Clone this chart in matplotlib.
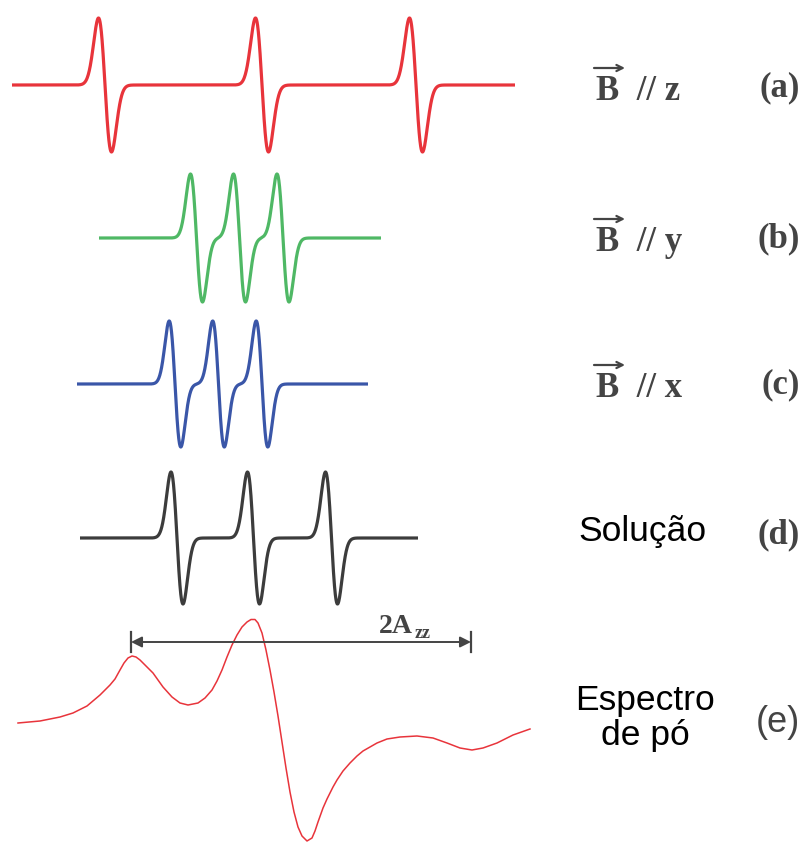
import numpy as np
import matplotlib
matplotlib.use("Agg")
import matplotlib.pyplot as plt

# line centres (field units), width and half peak-to-peak height for each orientation
z_centres = [105, 262, 416]
y_centres = [196.5, 239.5, 283]
x_centres = [175, 218.5, 262]
sol_centres = [177, 253.5, 331.5]
sigmas = {"z": 6.5, "y": 6.0, "x": 5.8, "sol": 6.0}
heights = {"z": 67, "y": 64, "x": 63, "sol": 66}

# powder spectrum (field, signal)
pow_x = [18, 40, 60, 73, 87, 100, 110, 115, 120, 124, 128, 132, 136, 140, 145, 153,
         163, 172, 180, 188, 198, 205, 212, 217, 222, 227, 232, 237, 242, 247, 251,
         255, 258, 262, 266, 270, 274, 278, 282, 286, 290, 294, 298, 302, 307, 312,
         315, 318, 323, 327, 333, 337, 343, 350, 357, 363, 370, 377, 387, 400, 417,
         433, 447, 460, 472, 483, 497, 513, 530]
pow_y = [723, 721, 717, 713, 706, 695, 685, 679, 670, 663, 658, 656, 657, 660, 665, 673,
         687, 697, 703, 705, 703, 698, 690, 681, 670, 657, 645, 635, 627, 622, 619.5,
         619.5, 623, 633, 650, 670, 692, 716, 742, 768, 792, 812, 827, 836, 841, 838,
         831, 822, 808, 799, 787, 780, 771, 763, 756, 751, 747, 743, 739, 737, 736,
         738, 743, 748, 750, 748, 743, 735, 729]

red = "#e8343b"
green = "#4fb865"
blue = "#3a56a8"
dark = "#3c3c3c"
grey = "#444444"


def dlines(f, centres, sigma, h):
    s = np.zeros_like(f)
    for c in centres:
        u = (f - c) / sigma
        s += -u * np.exp(0.5 - u * u / 2)
    return h * s


fig = plt.figure(figsize=(8.04, 8.42), dpi=100)
ax = fig.add_axes([0, 0, 1, 1])
ax.set_xlim(0, 804)
ax.set_ylim(842, 0)
ax.axis("off")

traces = [
    (z_centres, "z", 12, 515, 85, red),
    (y_centres, "y", 99, 381, 238, green),
    (x_centres, "x", 77, 368, 384, blue),
    (sol_centres, "sol", 80, 418, 538, dark),
]
for cen, key, f0, f1, base, col in traces:
    f = np.linspace(f0, f1, 2000)
    ax.plot(f, base - dlines(f, cen, sigmas[key], heights[key]), color=col,
            lw=2.3, solid_capstyle="butt")

ax.plot(pow_x, pow_y, color=red, lw=1.1, solid_joinstyle="round")

# 2Azz marker
ax.annotate("", xy=(131, 642), xytext=(471, 642),
            arrowprops=dict(arrowstyle="<|-|>", color=grey, lw=1.4,
                            mutation_scale=16, shrinkA=0, shrinkB=0))
for xe in (131, 471):
    ax.plot([xe, xe], [632, 652], color=grey, lw=1.6)
ax.text(379, 633, "2A", fontfamily="Liberation Serif", fontweight="bold",
        fontsize=20, color=grey, va="baseline")
ax.text(415, 638, "zz", fontfamily="Liberation Serif", fontweight="bold",
        fontsize=13, color=grey, va="baseline")

# orientation labels
serif = dict(fontfamily="Liberation Serif", fontweight="bold", fontsize=25, color=grey)
for lab, yb, tag in [("z", 100, "(a)"), ("y", 251, "(b)"), ("x", 397, "(c)")]:
    ax.text(596, yb, "B  // " + lab, va="baseline", **serif)
    ax.annotate("", xy=(625, yb - 32), xytext=(594, yb - 32),
                arrowprops=dict(arrowstyle="->", color=grey, lw=1.6,
                                mutation_scale=11, shrinkA=0, shrinkB=0))
    ax.text(800, yb - 4, tag, ha="right", va="baseline", **serif)

ax.text(800, 543, "(d)", ha="right", va="baseline", **serif)
ax.text(578, 532, "Solução", fontfamily="Liberation Sans", fontsize=25.5,
        color="black", va="center")
ax.text(645, 718, "Espectro\nde pó", fontfamily="Liberation Sans", fontsize=25.5,
        color="black", va="center", ha="center", linespacing=1.05)
ax.text(800, 722, "(e)", fontfamily="Liberation Sans", fontsize=26, color=grey,
        ha="right", va="center")

fig.savefig("out.png", dpi=100)
